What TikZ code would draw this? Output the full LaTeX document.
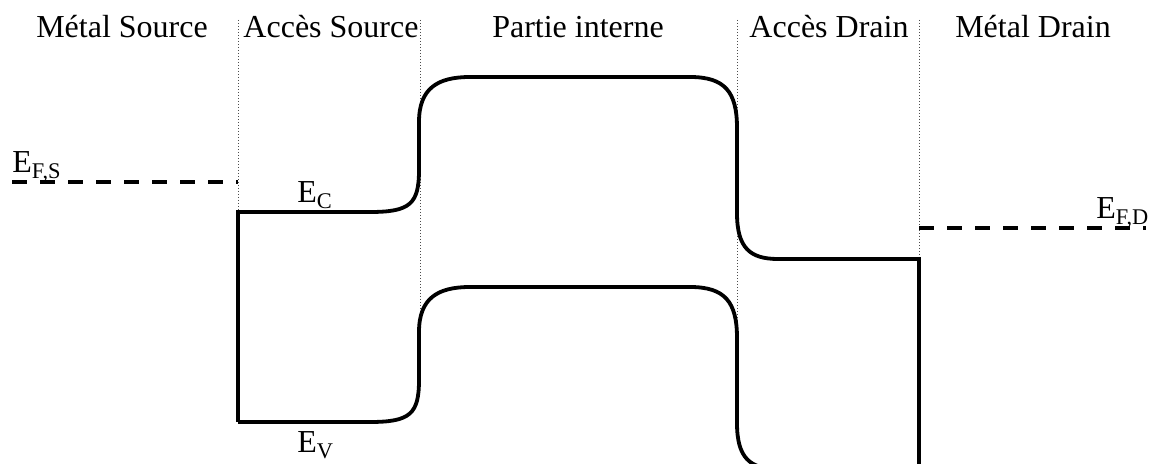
\documentclass[tikz,border=0pt]{standalone}
\usepackage{fontspec}
\setmainfont{Liberation Serif}
\begin{document}
\begin{tikzpicture}[x=0.5pt,y=-0.5pt,
  band/.style={line width=1.9pt,line join=miter},
  fermi/.style={line width=2.1pt,dash pattern=on 7.5pt off 6.5pt},
  limit/.style={black!70,line width=0.5pt,densely dotted},
  every node/.style={font=\fontsize{16}{19}\selectfont,inner sep=0pt}]
  \useasboundingbox (0,0) rectangle (1152,464);
  % region titles
  \node (MS) at (122,38) [anchor=base] {Métal Source};
  \node (AS) at (331,38) [anchor=base] {Accès Source};
  \node (PI) at (578,38) [anchor=base] {Partie interne};
  \node (AD) at (829,38) [anchor=base] {Accès Drain};
  \node (MD) at (1033,38) [anchor=base] {Métal Drain};
  % region limits
  \draw[limit] (238,20) -- (238,212);
  \draw[limit] (420,20) -- (420,335);
  \draw[limit] (737,20) -- (737,430);
  \draw[limit] (919,20) -- (919,259);
  % fermi levels
  \draw[fermi] (12,182) -- (238,182);
  \draw[fermi] (919,228) -- (1146,228);
  \node (EFS) at (12,173) [anchor=base west] {E\textsubscript{F,S}};
  \node (EFD) at (1096,219) [anchor=base west] {E\textsubscript{F,D}};
  % conduction band
  \draw[band] (238,422) -- (238,212) -- (370,212)
    .. controls (410,212) and (419,204) .. (419,170) -- (419,122)
    .. controls (419,88) and (438,77) .. (470,77) -- (690,77)
    .. controls (725,77) and (737,92) .. (737,128) -- (737,213)
    .. controls (737,248) and (750,259) .. (778,259) -- (919,259) -- (919,480);
  % valence band
  \draw[band] (238,422) -- (370,422)
    .. controls (410,422) and (419,414) .. (419,380) -- (419,332)
    .. controls (419,298) and (438,287) .. (470,287) -- (690,287)
    .. controls (725,287) and (737,302) .. (737,338) -- (737,423)
    .. controls (737,458) and (750,469) .. (778,469) -- (919,469);
  \node (EC) at (297,203) [anchor=base west] {E\textsubscript{C}};
  \node (EV) at (297,453) [anchor=base west] {E\textsubscript{V}};
\end{tikzpicture}
\end{document}
